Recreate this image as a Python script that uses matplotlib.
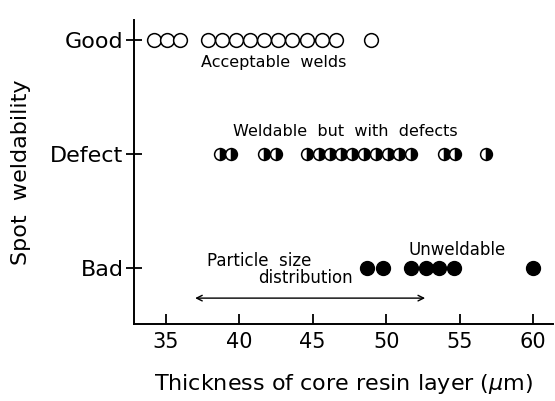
import matplotlib
matplotlib.use("Agg")
import matplotlib.pyplot as plt

# weldability levels: Bad=0, Defect=1, Good=2
LEVELS = ["Bad", "Defect", "Good"]

good_x = [34.2, 35.1, 36.0, 37.9, 38.85, 39.8, 40.75, 41.7, 42.65, 43.6,
          44.6, 45.6, 46.6, 49.0]
defect_x = [38.7, 39.45, 41.7, 42.5, 44.6, 45.4, 46.2, 46.9, 47.7, 48.5,
            49.3, 50.1, 50.9, 51.7, 53.9, 54.7, 56.8]
bad_x = [48.7, 49.8, 51.7, 52.7, 53.6, 54.6, 60.0]

x_ticks = [35, 40, 45, 50, 55, 60]
particle_range = [37.0, 52.65]

plt.rcParams["font.family"] = "DejaVu Sans"

fig = plt.figure(figsize=(5.55, 4.01), dpi=100)
ax = fig.add_axes([0.2414, 0.192, 0.755, 0.758])

ax.plot(good_x, [2] * len(good_x), "o", ms=9.9, mfc="white", mec="black",
        mew=1.1, ls="none", clip_on=False)
ax.plot(defect_x, [1] * len(defect_x), "o", ms=8.5, fillstyle="right",
        mfc="black", mfcalt="white", mec="black", mew=1.1, ls="none")
ax.plot(bad_x, [0] * len(bad_x), "o", ms=10, mfc="black", mec="black",
        ls="none")

ax.text(42.35, 1.8, "Acceptable  welds", ha="center", va="center", fontsize=11.5)
ax.text(47.2, 1.2, "Weldable  but  with  defects", ha="center", va="center",
        fontsize=11.5)
ax.text(54.85, 0.16, "Unweldable", ha="center", va="center", fontsize=12)
ax.text(41.35, 0.06, "Particle  size", ha="center", va="center", fontsize=12)
ax.text(44.5, -0.09, "distribution", ha="center", va="center", fontsize=12)
ax.annotate("", xy=(particle_range[0], -0.263), xytext=(particle_range[1], -0.263),
            arrowprops=dict(arrowstyle="<->", color="black", lw=1.0,
                            shrinkA=0, shrinkB=0))

ax.set_xlim(32.84, 61.35)
ax.set_ylim(-0.49, 2.175)
ax.set_xticks(x_ticks)
ax.set_yticks([0, 1, 2])
ax.set_yticklabels(LEVELS)
ax.tick_params(axis="x", direction="in", length=7, width=1.3, labelsize=15, pad=6)
ax.tick_params(axis="y", direction="inout", length=11, width=1.3, labelsize=16, pad=2)

for side in ["top", "right"]:
    ax.spines[side].set_visible(False)
for side in ["left", "bottom"]:
    ax.spines[side].set_linewidth(1.4)

ax.set_ylabel("Spot  weldability", fontsize=16, labelpad=14)
ax.set_xlabel("Thickness of core resin layer ($\\mu$m)", fontsize=16, labelpad=14)

fig.savefig("out.png", dpi=100)
